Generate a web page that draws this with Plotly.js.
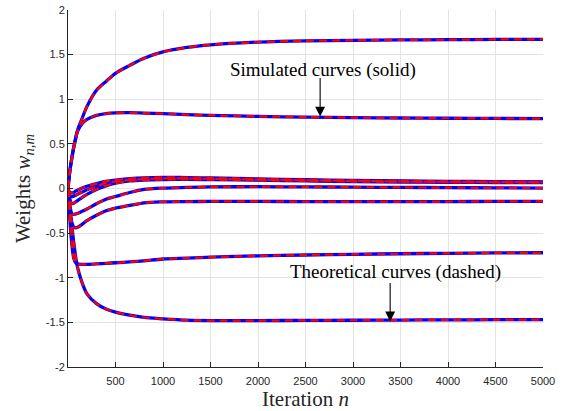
<!DOCTYPE html>
<html><head><meta charset="utf-8">
<script src="https://cdn.plot.ly/plotly-3.0.1.min.js"></script>
<style>html,body{margin:0;padding:0;background:#fff}#chart{width:566px;height:411px}</style>
</head><body><div id="chart"></div>
<script>
// Iteration index samples
const iterations = [0, 20, 40, 60, 80, 100, 150, 200, 300, 400, 500, 650, 800, 1000, 1250, 1500, 2000, 2500, 3000, 3500, 4000, 4500, 5000];
// Weight trajectories
const w1 = [0, 0.20, 0.34, 0.46, 0.56, 0.65, 0.79, 0.92, 1.10, 1.20, 1.29, 1.38, 1.46, 1.53, 1.58, 1.61, 1.64, 1.655, 1.66, 1.665, 1.667, 1.67, 1.67];
const w2 = [0, 0.20, 0.34, 0.46, 0.56, 0.64, 0.73, 0.775, 0.82, 0.84, 0.848, 0.85, 0.845, 0.838, 0.828, 0.82, 0.808, 0.80, 0.795, 0.79, 0.787, 0.785, 0.783];
const w3 = [0, -0.045, -0.05, -0.045, -0.03, -0.02, 0.005, 0.025, 0.055, 0.08, 0.095, 0.11, 0.12, 0.125, 0.122, 0.118, 0.108, 0.098, 0.09, 0.084, 0.08, 0.077, 0.075];
const w4 = [0, -0.08, -0.09, -0.085, -0.075, -0.065, -0.04, -0.015, 0.025, 0.06, 0.08, 0.097, 0.105, 0.112, 0.112, 0.108, 0.10, 0.092, 0.085, 0.079, 0.075, 0.072, 0.07];
const w5 = [0, -0.12, -0.17, -0.165, -0.15, -0.135, -0.10, -0.065, -0.01, 0.03, 0.06, 0.085, 0.095, 0.10, 0.102, 0.10, 0.093, 0.085, 0.078, 0.073, 0.07, 0.067, 0.065];
const w6 = [0, -0.20, -0.28, -0.29, -0.285, -0.28, -0.255, -0.23, -0.17, -0.12, -0.09, -0.045, -0.01, 0.005, 0.012, 0.018, 0.02, 0.018, 0.015, 0.012, 0.01, 0.007, 0.005];
const w7 = [0, -0.25, -0.38, -0.43, -0.44, -0.435, -0.40, -0.36, -0.30, -0.25, -0.22, -0.19, -0.16, -0.15, -0.147, -0.145, -0.145, -0.147, -0.148, -0.147, -0.146, -0.145, -0.144];
const w8 = [0, -0.35, -0.62, -0.78, -0.83, -0.845, -0.85, -0.85, -0.845, -0.838, -0.832, -0.822, -0.81, -0.79, -0.78, -0.77, -0.755, -0.745, -0.737, -0.731, -0.726, -0.722, -0.72];
const w9 = [0, -0.22, -0.42, -0.60, -0.76, -0.88, -1.06, -1.18, -1.29, -1.35, -1.385, -1.42, -1.445, -1.46, -1.475, -1.48, -1.48, -1.478, -1.476, -1.474, -1.472, -1.47, -1.47];
const weights = [w1, w2, w3, w4, w5, w6, w7, w8, w9];

const xTickVals = [500, 1000, 1500, 2000, 2500, 3000, 3500, 4000, 4500, 5000];
const yTickVals = [-2, -1.5, -1, -0.5, 0, 0.5, 1, 1.5, 2];
const yTickLabels = ['-2', '-1.5', '-1', '-0.5', '0', '0.5', '1', '1.5', '2'];

const traces = [];
weights.forEach(w => traces.push({x: iterations, y: w, type: 'scatter', mode: 'lines',
  line: {color: '#0000ff', width: 3.3, shape: 'spline', smoothing: 0.8}, hoverinfo: 'skip'}));
weights.forEach(w => traces.push({x: iterations, y: w, type: 'scatter', mode: 'lines',
  line: {color: '#ff0000', width: 2.2, dash: '8px,5px', shape: 'spline', smoothing: 0.8}, hoverinfo: 'skip'}));

const serif = 'Liberation Serif, Times New Roman, serif';
const axisCommon = {
  showline: true, linecolor: '#262626', linewidth: 1, mirror: false,
  ticks: 'inside', ticklen: 5, tickwidth: 1, tickcolor: '#262626',
  showgrid: true, gridcolor: '#e3e3e3', gridwidth: 1, zeroline: false,
  tickfont: {family: 'Liberation Sans, Arial, sans-serif', size: 11, color: '#262626'},
  automargin: false
};
const layout = {
  width: 566, height: 411,
  margin: {l: 68, r: 23, t: 10, b: 44},
  paper_bgcolor: '#ffffff', plot_bgcolor: '#ffffff',
  showlegend: false,
  xaxis: Object.assign({}, axisCommon, {
    range: [0, 5000], tickvals: xTickVals, ticktext: xTickVals.map(String), ticklabelstandoff: 4,
    title: {text: 'Iteration <i>n</i>', font: {family: serif, size: 21, color: '#262626'}, standoff: 5}
  }),
  yaxis: Object.assign({}, axisCommon, {
    range: [-2, 2], tickvals: yTickVals, ticktext: yTickLabels,
    title: {text: 'Weights <i>w</i><sub><i>n,m</i></sub>', font: {family: serif, size: 21, color: '#262626'}, standoff: 9}
  }),
  annotations: [
    {x: 2685, y: 1.33, xref: 'x', yref: 'y', text: 'Simulated curves (solid)', showarrow: false,
     font: {family: serif, size: 19, color: '#000'}, xanchor: 'center', yanchor: 'middle'},
    {x: 2654, y: 0.806, xref: 'x', yref: 'y', text: '', showarrow: true, ax: 0, ay: -40,
     arrowhead: 2, arrowsize: 1.8, arrowwidth: 1.1, arrowcolor: '#000'},
    {x: 3444, y: -0.933, xref: 'x', yref: 'y', text: 'Theoretical curves (dashed)', showarrow: false,
     font: {family: serif, size: 19, color: '#000'}, xanchor: 'center', yanchor: 'middle'},
    {x: 3391, y: -1.49, xref: 'x', yref: 'y', text: '', showarrow: true, ax: 0, ay: -40,
     arrowhead: 2, arrowsize: 1.8, arrowwidth: 1.1, arrowcolor: '#000'}
  ]
};
Plotly.newPlot('chart', traces, layout, {displayModeBar: false, staticPlot: true});
</script>
</body></html>
